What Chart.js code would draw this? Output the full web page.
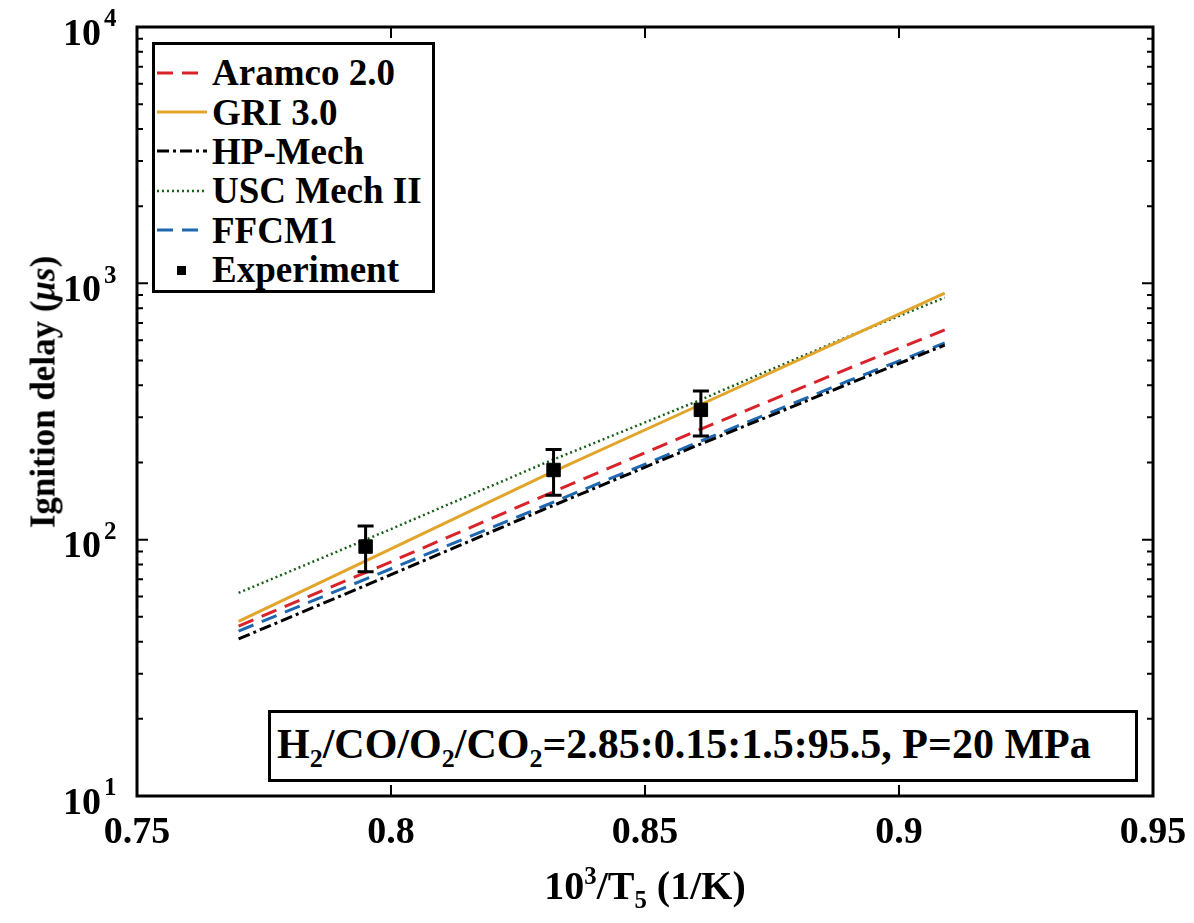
<!DOCTYPE html>
<html lang="en">
<head>
<meta charset="UTF-8" />
<title>Ignition delay - Chart.js</title>
<style>
  body {
    margin: 0;
    background: #fff;
    font-family: "Liberation Serif", "Times New Roman", serif;
    font-weight: bold;
    color: #000;
  }
  .wrap {
    position: relative;
    width: 1194px;
    height: 923px;
  }
  canvas {
    position: absolute;
    left: 0;
    top: 0;
  }
  .legend {
    position: absolute;
    left: 152px;
    top: 42px;
    width: 283px;
    height: 251px;
    box-sizing: border-box;
    border: 3px solid #000;
    background: #fff;
    padding-top: 8px;
  }
  .legend .row {
    display: flex;
    align-items: center;
    height: 39.4px;
    font-size: 37px;
    line-height: 1;
    white-space: nowrap;
  }
  .legend svg {
    margin-left: 2px;
    margin-right: 5px;
    flex: none;
  }
  .note {
    position: absolute;
    left: 268px;
    top: 710px;
    width: 870px;
    height: 72px;
    box-sizing: border-box;
    border: 3px solid #000;
    background: #fff;
    font-size: 42px;
    line-height: 1;
    padding: 10px 0 0 6px;
    white-space: nowrap;
  }
  .note sub, .xtitle sub {
    font-size: 0.62em;
    vertical-align: baseline;
    position: relative;
    top: 0.35em;
  }
  .xtitle sup {
    font-size: 0.62em;
    vertical-align: baseline;
    position: relative;
    top: -0.6em;
  }
  .xtitle {
    position: absolute;
    left: 645px;
    top: 866px;
    transform: translateX(-50%);
    font-size: 40px;
    line-height: 1;
    white-space: nowrap;
  }
  .ytitle {
    position: absolute;
    left: 43px;
    top: 392px;
    transform: translate(-50%, -50%) rotate(-90deg);
    font-size: 35px;
    line-height: 1;
    white-space: nowrap;
  }
</style>
</head>
<body>

<div class="wrap">
  <canvas id="chart" width="1194" height="923"></canvas>

  <div class="legend">
    <div class="row"><svg width="50" height="10"><line x1="0" y1="5" x2="50" y2="5" stroke="#d9232a" stroke-width="3" stroke-dasharray="16 9"/></svg>Aramco 2.0</div>
    <div class="row"><svg width="50" height="10"><line x1="0" y1="5" x2="50" y2="5" stroke="#e2a52c" stroke-width="3"/></svg>GRI 3.0</div>
    <div class="row"><svg width="50" height="10"><line x1="0" y1="5" x2="50" y2="5" stroke="#000" stroke-width="3" stroke-dasharray="12 4 3 4"/></svg>HP-Mech</div>
    <div class="row"><svg width="50" height="10"><line x1="0" y1="5" x2="50" y2="5" stroke="#1a5e1a" stroke-width="2.5" stroke-dasharray="2 3"/></svg>USC Mech II</div>
    <div class="row"><svg width="50" height="10"><line x1="0" y1="5" x2="50" y2="5" stroke="#1f68b0" stroke-width="3" stroke-dasharray="16 9"/></svg>FFCM1</div>
    <div class="row"><svg width="50" height="10"><rect x="20" y="1" width="9" height="9" fill="#000"/></svg>Experiment</div>
  </div>

  <div class="note">H<sub>2</sub>/CO/O<sub>2</sub>/CO<sub>2</sub>=2.85:0.15:1.5:95.5, P=20 MPa</div>

  <div class="xtitle">10<sup>3</sup>/T<sub>5</sub> (1/K)</div>
  <div class="ytitle">Ignition delay (<i>μs</i>)</div>
</div>

<script src="https://cdn.jsdelivr.net/npm/chart.js"></script>
<script>
  // axes
  const xTicks = [0.75, 0.8, 0.85, 0.9, 0.95];
  const xTickLabels = ['0.75', '0.8', '0.85', '0.9', '0.95'];
  const yTicks = [10, 100, 1000, 10000];
  const yTickExp = ['1', '2', '3', '4'];

  // model curves (1000/T, ignition delay in us)
  const modelX = [0.77, 0.80, 0.83, 0.86, 0.89, 0.909];
  const aramco = [46, 82, 148, 265, 465, 658];
  const gri = [48, 92, 177, 330, 615, 916];
  const hpMech = [41, 73, 131, 232, 405, 574];
  const uscMech = [62, 110, 198, 345, 620, 880];
  const ffcm1 = [44, 77, 135, 238, 416, 585];

  // experiment with error bars
  const expX = [0.795, 0.832, 0.861];
  const expY = [94, 187, 321];
  const expLo = [75, 149, 254];
  const expHi = [113, 225, 380];

  function pts(xs, ys) {
    return xs.map((x, i) => ({ x: x, y: ys[i] }));
  }

  // frame + inward ticks on all four sides
  const framePlugin = {
    id: 'frame',
    afterDraw(chart) {
      const { ctx, chartArea: a, scales } = chart;
      const xs = scales.x, ys = scales.y;
      ctx.save();
      ctx.strokeStyle = '#000';
      ctx.lineWidth = 2;
      ctx.beginPath();
      for (let d = 10; d < 10000; d *= 10) {
        for (let m = 1; m < 10; m++) {
          const py = ys.getPixelForValue(d * m);
          const len = m === 1 ? 11 : 6;
          ctx.moveTo(a.left, py); ctx.lineTo(a.left + len, py);
          ctx.moveTo(a.right, py); ctx.lineTo(a.right - len, py);
        }
      }
      xTicks.forEach(v => {
        const px = xs.getPixelForValue(v);
        ctx.moveTo(px, a.bottom); ctx.lineTo(px, a.bottom - 11);
        ctx.moveTo(px, a.top); ctx.lineTo(px, a.top + 11);
      });
      ctx.stroke();
      ctx.lineWidth = 3;
      ctx.strokeRect(a.left, a.top, a.right - a.left, a.bottom - a.top);

      // exponents of the y tick labels
      ctx.fillStyle = '#000';
      ctx.textAlign = 'left';
      ctx.textBaseline = 'middle';
      ctx.font = 'bold 25px "Liberation Serif"';
      yTicks.forEach((v, i) => {
        const py = ys.getPixelForValue(v);
        ctx.fillText(yTickExp[i], 104, py - 7);
      });
      ctx.restore();
    }
  };

  const errorBarPlugin = {
    id: 'errorBars',
    afterDatasetsDraw(chart) {
      const { ctx, scales } = chart;
      ctx.save();
      ctx.strokeStyle = '#000';
      ctx.lineWidth = 3;
      ctx.beginPath();
      expX.forEach((x, i) => {
        const px = scales.x.getPixelForValue(x);
        const lo = scales.y.getPixelForValue(expLo[i]);
        const hi = scales.y.getPixelForValue(expHi[i]);
        ctx.moveTo(px, lo); ctx.lineTo(px, hi);
        ctx.moveTo(px - 8, lo); ctx.lineTo(px + 8, lo);
        ctx.moveTo(px - 8, hi); ctx.lineTo(px + 8, hi);
      });
      ctx.stroke();
      ctx.restore();
    }
  };

  const tickFont = { family: '"Liberation Serif"', size: 38, weight: 'bold' };

  new Chart(document.getElementById('chart'), {
    type: 'line',
    data: {
      datasets: [
        { label: 'Experiment', data: pts(expX, expY), showLine: false, pointStyle: 'rect',
          pointRadius: 9.5, pointBackgroundColor: '#000', pointBorderColor: '#000', order: 0 },
        { label: 'Aramco 2.0', data: pts(modelX, aramco), borderColor: '#d9232a', borderDash: [16, 9], order: 1 },
        { label: 'GRI 3.0', data: pts(modelX, gri), borderColor: '#e2a52c', order: 2 },
        { label: 'HP-Mech', data: pts(modelX, hpMech), borderColor: '#000', borderDash: [12, 4, 3, 4], order: 3 },
        { label: 'USC Mech II', data: pts(modelX, uscMech), borderColor: '#1a5e1a', borderDash: [2, 3], borderWidth: 2.5, order: 4 },
        { label: 'FFCM1', data: pts(modelX, ffcm1), borderColor: '#1f68b0', borderDash: [16, 9], order: 5 }
      ]
    },
    options: {
      responsive: false,
      animation: false,
      devicePixelRatio: 1,
      layout: { padding: { top: 27, right: 41, left: 0, bottom: 0 } },
      elements: {
        line: { borderWidth: 3, tension: 0, fill: false },
        point: { radius: 0 }
      },
      scales: {
        x: {
          type: 'linear',
          min: 0.75,
          max: 0.95,
          afterBuildTicks: s => { s.ticks = xTicks.map(v => ({ value: v })); },
          afterFit: s => { s.height = 127; s.paddingLeft = 0; s.paddingRight = 0; },
          ticks: {
            autoSkip: false,
            maxRotation: 0,
            padding: 14,
            color: '#000',
            font: tickFont,
            callback: (v, i) => xTickLabels[i]
          },
          grid: { display: false, drawTicks: false },
          border: { display: false }
        },
        y: {
          type: 'logarithmic',
          min: 10,
          max: 10000,
          afterBuildTicks: s => { s.ticks = yTicks.map(v => ({ value: v })); },
          afterFit: s => { s.width = 137; s.paddingTop = 0; s.paddingBottom = 0; },
          ticks: {
            autoSkip: false,
            padding: 36,
            labelOffset: 8,
            color: '#000',
            font: tickFont,
            callback: () => '10'
          },
          grid: { display: false, drawTicks: false },
          border: { display: false }
        }
      },
      plugins: {
        legend: { display: false },
        tooltip: { enabled: false }
      }
    },
    plugins: [framePlugin, errorBarPlugin]
  });
</script>

</body>
</html>
